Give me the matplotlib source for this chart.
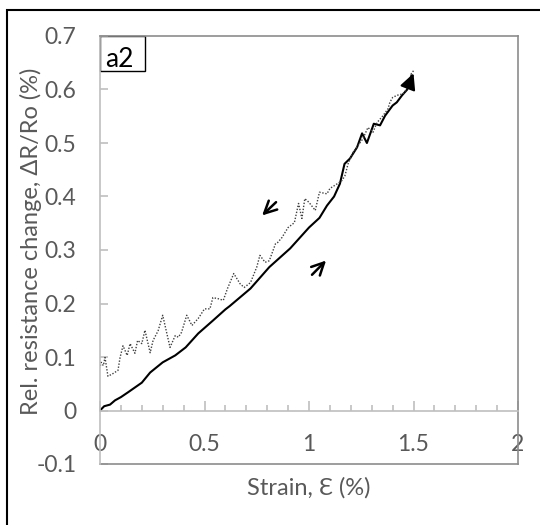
import matplotlib
matplotlib.use("Agg")
import matplotlib.pyplot as plt
from matplotlib.patches import Rectangle
from matplotlib.lines import Line2D
from matplotlib.ticker import MultipleLocator

# loading curve (solid), strain % vs dR/Ro %
load_x = [0, 0.02, 0.048, 0.072, 0.10, 0.134, 0.20, 0.24, 0.30, 0.36, 0.41, 0.47,
          0.54, 0.60, 0.62, 0.72, 0.81, 0.91, 1.0, 1.05, 1.086, 1.12, 1.148, 1.17,
          1.196, 1.23, 1.254, 1.277, 1.31, 1.34, 1.364, 1.40, 1.42, 1.445, 1.47, 1.49]
load_y = [0, 0.008, 0.011, 0.019, 0.025, 0.034, 0.052, 0.071, 0.09, 0.103, 0.118, 0.144,
          0.168, 0.189, 0.195, 0.228, 0.268, 0.303, 0.342, 0.36, 0.383, 0.40, 0.424, 0.461,
          0.471, 0.492, 0.518, 0.50, 0.536, 0.533, 0.551, 0.57, 0.576, 0.589, 0.60, 0.626]

# unloading curve (dotted)
unload_x = [1.50, 1.49, 1.475, 1.45, 1.42, 1.40, 1.387, 1.378, 1.354, 1.325, 1.306, 1.282,
            1.258, 1.234, 1.21, 1.187, 1.172, 1.158, 1.14, 1.10, 1.086, 1.05, 1.03, 1.0,
            0.98, 0.966, 0.95, 0.93, 0.90, 0.87, 0.85, 0.84, 0.81, 0.79, 0.765, 0.75,
            0.72, 0.69, 0.67, 0.64, 0.61, 0.59, 0.565, 0.54, 0.526, 0.50, 0.47, 0.44,
            0.415, 0.39, 0.375, 0.36, 0.335, 0.30, 0.278, 0.254, 0.24, 0.215, 0.20, 0.18,
            0.167, 0.144, 0.13, 0.11, 0.096, 0.086, 0.062, 0.038, 0.024, 0.016, 0.005, 0.0]
unload_y = [0.635, 0.63, 0.604, 0.592, 0.589, 0.585, 0.576, 0.564, 0.551, 0.538, 0.52, 0.529,
            0.508, 0.495, 0.482, 0.461, 0.439, 0.43, 0.425, 0.415, 0.405, 0.408, 0.374, 0.389,
            0.396, 0.359, 0.387, 0.351, 0.342, 0.323, 0.314, 0.312, 0.28, 0.277, 0.29, 0.268,
            0.239, 0.23, 0.237, 0.256, 0.228, 0.206, 0.209, 0.211, 0.19, 0.19, 0.172, 0.159,
            0.178, 0.146, 0.137, 0.14, 0.118, 0.178, 0.149, 0.131, 0.108, 0.15, 0.125, 0.131,
            0.107, 0.125, 0.103, 0.121, 0.099, 0.075, 0.069, 0.064, 0.099, 0.084, 0.09, 0.08]

gray_txt = '#595959'
axis_col = '#bfbfbf'
border_col = '#8c8c8c'
font = ['Lato', 'DejaVu Sans']

plt.rcParams['font.family'] = font

fig = plt.figure(figsize=(5.4, 5.25), dpi=100)
ax = fig.add_axes([100 / 540, 1 - 464 / 525, 418 / 540, 428 / 525])

ax.plot(load_x, load_y, color='black', lw=1.5, solid_joinstyle='round')
ax.plot(unload_x, unload_y, color='#404040', lw=1.0, linestyle=(0, (1, 1.2)))
ax.annotate('', xy=(1.505, 0.635), xytext=(1.47, 0.60),
            arrowprops=dict(arrowstyle='-|>', mutation_scale=24, color='black', lw=1.5))

# direction arrows
ax.annotate('', xy=(0.766, 0.361), xytext=(0.852, 0.393),
            arrowprops=dict(arrowstyle='->', mutation_scale=22, color='black', lw=1.8))
ax.annotate('', xy=(1.091, 0.284), xytext=(1.005, 0.25),
            arrowprops=dict(arrowstyle='->', mutation_scale=22, color='black', lw=1.8))

ax.set_xlim(0, 2)
ax.set_ylim(-0.1, 0.7)
ax.xaxis.set_major_locator(MultipleLocator(0.5))
ax.xaxis.set_minor_locator(MultipleLocator(0.1))
ax.yaxis.set_major_locator(MultipleLocator(0.1))
ax.xaxis.set_major_formatter(plt.FuncFormatter(lambda v, p: '%g' % v))
ax.yaxis.set_major_formatter(plt.FuncFormatter(lambda v, p: '0' if abs(v) < 1e-9 else '%g' % round(v, 1)))

ax.spines['bottom'].set_position(('data', 0))
ax.spines['bottom'].set_color(axis_col)
ax.spines['left'].set_color(axis_col)
ax.spines['top'].set_color(border_col)
ax.spines['right'].set_color(border_col)
for s in ax.spines.values():
    s.set_linewidth(1.2)
ax.add_line(Line2D([0, 1], [0, 0], transform=ax.transAxes, color=border_col, lw=1.2, clip_on=False))

ax.tick_params(axis='x', which='major', direction='in', length=7, width=1.2, color=axis_col,
               pad=17, labelsize=16.5, labelcolor=gray_txt)
ax.tick_params(axis='x', which='minor', direction='in', length=4, width=1.2, color=axis_col)
ax.tick_params(axis='y', which='major', direction='in', length=6, width=1.2, color=axis_col,
               pad=17, labelsize=16.5, labelcolor=gray_txt)

ax.set_xlabel('Strain, Ɛ (%)', fontsize=17, color=gray_txt, va='center')
ax.set_ylabel('Rel. resistance change, ΔR/Ro (%)', fontsize=17, color=gray_txt, va='center')
ax.xaxis.set_label_coords(0.5, -0.056)
ax.yaxis.set_label_coords(-0.165, 0.521)

# panel tag box
ax.add_patch(Rectangle((0, 1 - 35 / 428), 45 / 418, 35 / 428, transform=ax.transAxes,
                       fill=False, edgecolor='black', lw=1.0, clip_on=False))
ax.text(5 / 418, 1 - 36 / 428, 'a2', transform=ax.transAxes, fontsize=19,
        color='black', ha='left', va='bottom')

# outer chart frame
fig.add_artist(Rectangle((7 / 540, -0.1), 1.2, 1 - 10 / 525 + 0.1, transform=fig.transFigure,
                         fill=False, edgecolor='black', lw=1.5))

fig.savefig('out.png', dpi=100)
